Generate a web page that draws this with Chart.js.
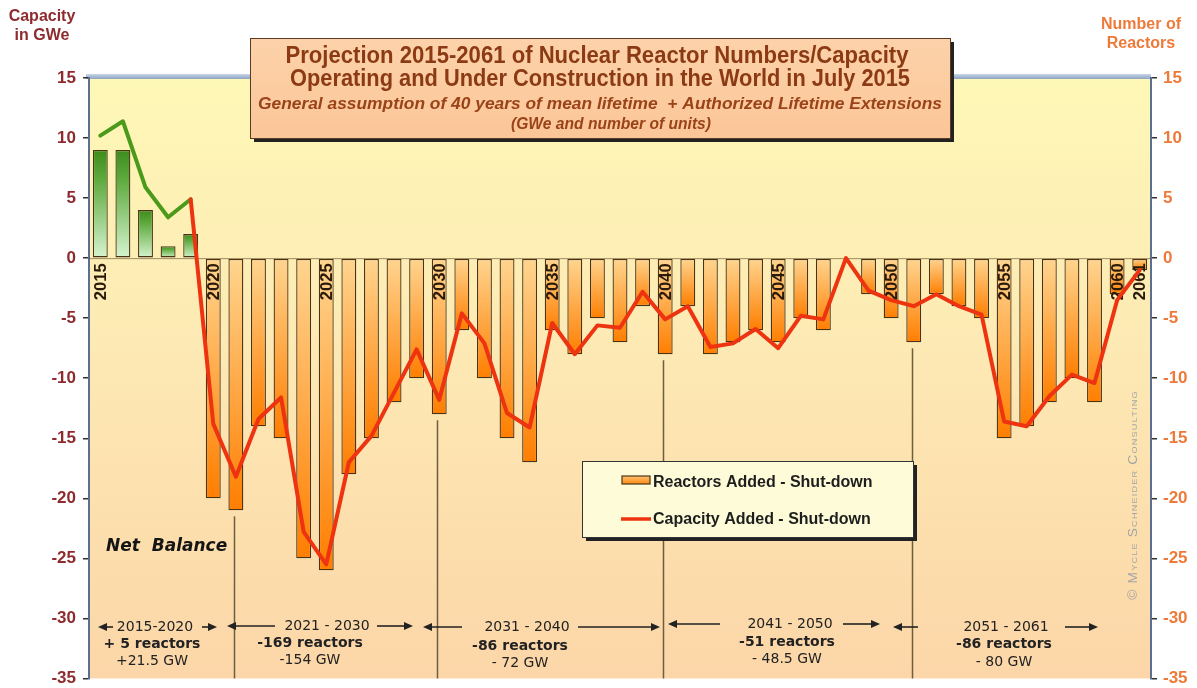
<!DOCTYPE html>
<html><head><meta charset="utf-8">
<script src="https://cdn.jsdelivr.net/npm/chart.js@4.4.0/dist/chart.umd.min.js"></script>
<style>html,body{margin:0;padding:0;background:#fff;overflow:hidden}canvas{display:block}</style>
</head><body>
<canvas id="c" width="1197" height="688"></canvas>
<script>
// ---------- DATA ----------
const years = ['2015','2016','2017','2018','2019','2020','2021','2022','2023','2024','2025','2026','2027','2028','2029',
  '2030','2031','2032','2033','2034','2035','2036','2037','2038','2039','2040','2041','2042','2043','2044','2045',
  '2046','2047','2048','2049','2050','2051','2052','2053','2054','2055','2056','2057','2058','2059','2060','2061'];
const reactors = [9,9,4,1,2,-20,-21,-14,-15,-25,-26,-18,-15,-12,-10,-13,-6,-10,-15,-17,-6,-8,-5,-7,-4,-8,-4,-8,-7,-6,-7,
  -5,-6,0,-3,-5,-7,-3,-4,-5,-15,-14,-12,-10,-12,-3,-1];
const capacity = [10.2,11.4,5.9,3.4,4.9,-13.8,-18.2,-13.4,-11.6,-22.8,-25.5,-17.0,-14.8,-11.2,-7.6,-11.8,-4.6,-7.1,-12.9,-14.1,
  -5.4,-8.0,-5.6,-5.8,-2.8,-5.1,-4.0,-7.4,-7.1,-5.9,-7.5,-4.8,-5.1,0,-2.7,-3.5,-4.0,-3.0,-4.0,-4.7,-13.6,-14.0,-11.5,-9.7,-10.4,-3.5,-1.0];
const yTicks = [15,10,5,0,-5,-10,-15,-20,-25,-30,-35];
const yearLabels = ['2015','2020','2025','2030','2035','2040','2045','2050','2055','2060','2061'];
const separatorYears = ['2021','2030','2040','2051'];
const periodLabels = ['2015-2020','2021 - 2030','2031 - 2040','2041 - 2050','2051 - 2061'];
const reactorLabels = ['+ 5 reactors','-169 reactors','-86 reactors','-51 reactors','-86 reactors'];
const gwLabels = ['+21.5 GW','-154 GW','- 72 GW','- 48.5 GW','- 80 GW'];
const titleLines = ['Projection 2015-2061 of Nuclear Reactor Numbers/Capacity',
  'Operating and Under Construction in the World in July 2015',
  'General assumption of 40 years of mean lifetime  + Authorized Lifetime Extensions',
  '(GWe and number of units)'];
const legendLabels = ['Reactors Added - Shut-down','Capacity Added - Shut-down'];

// ---------- STYLE / LAYOUT ----------
const GREEN = '#4C9A1C', RED = '#EE3311';
const periodX = [155,327,527,790,1006], periodY = [627,626,627,624,627];
const subX = [152,310,520,787,1004], subY1 = [644,643,646,642,644], subY2 = [661,660,663,659,662];
const arrows = [[113,98,0],[202,217,0],[275,227,1],[377,413,1],[462,423,2],[578,660,2],[720,668,3],[843,880,3],[918,893,4],[1065,1098,4]];

function fitText(ctx, text, x, y, w) {
  const m = ctx.measureText(text).width;
  let s = w / m; if (s > 1.15) s = 1.15; if (s < 0.8) s = 0.8;
  ctx.save(); ctx.translate(x, y); ctx.scale(s, 1); ctx.textAlign = 'center'; ctx.fillText(text, 0, 0); ctx.restore();
}
function arrow(ctx, x0, x1, y) {
  ctx.save(); ctx.strokeStyle = '#222'; ctx.fillStyle = '#222'; ctx.lineWidth = 1.6;
  const d = Math.sign(x1 - x0);
  ctx.beginPath(); ctx.moveTo(x0, y); ctx.lineTo(x1 - d * 6, y); ctx.stroke();
  ctx.beginPath(); ctx.moveTo(x1, y); ctx.lineTo(x1 - d * 9, y - 4); ctx.lineTo(x1 - d * 9, y + 4); ctx.closePath(); ctx.fill();
  ctx.restore();
}

const bgPlugin = {
  id: 'bg',
  beforeDraw(chart) {
    const { ctx, chartArea: a } = chart;
    ctx.save();
    ctx.fillStyle = '#fff'; ctx.fillRect(0, 0, chart.width, chart.height);
    const g = ctx.createLinearGradient(0, a.top, 0, a.bottom);
    g.addColorStop(0, '#FEF8B6'); g.addColorStop(0.45, '#FDE9B4'); g.addColorStop(1, '#FCD6A8');
    ctx.fillStyle = g; ctx.fillRect(a.left, a.top, a.right - a.left, a.bottom - a.top);
    const gb = ctx.createLinearGradient(0, a.top - 4, 0, a.top + 1);
    gb.addColorStop(0, '#C9D6E6'); gb.addColorStop(1, '#8CA3C2');
    ctx.fillStyle = gb; ctx.fillRect(a.left - 3, a.top - 4, a.right - a.left + 3, 5);
    ctx.restore();
  },
  afterDatasetDraw(chart, args) {
    if (args.meta.type !== 'bar') return;
    const { ctx, chartArea: a } = chart;
    const x = chart.scales.x, y = chart.scales.y1;
    const y0 = y.getPixelForValue(0);
    ctx.save();
    ctx.strokeStyle = 'rgba(80,60,30,0.55)'; ctx.lineWidth = 1;
    ctx.beginPath(); ctx.moveTo(a.left, y0 + 0.5); ctx.lineTo(a.right, y0 + 0.5); ctx.stroke();
    ctx.strokeStyle = '#6E5E40'; ctx.lineWidth = 1.5;
    separatorYears.forEach(yr => {
      const i = years.indexOf(yr);
      const px = Math.round(x.getPixelForValue(i)) - 1.5;
      const top = y.getPixelForValue(reactors[i]) + 6;
      ctx.beginPath(); ctx.moveTo(px, top); ctx.lineTo(px, a.bottom); ctx.stroke();
    });
    ctx.fillStyle = '#2A1A0A'; ctx.font = 'bold 16px "Liberation Sans", Arial, sans-serif';
    ctx.textAlign = 'right'; ctx.textBaseline = 'middle';
    yearLabels.forEach(yr => {
      const i = years.indexOf(yr);
      const px = x.getPixelForValue(i);
      ctx.save(); ctx.translate(px + 1, y0 + 5); ctx.rotate(-Math.PI / 2); ctx.scale(1.04, 1.08);
      ctx.fillText(yr, 0, 0); ctx.restore();
    });
    ctx.restore();
  },
  afterDraw(chart) {
    const { ctx } = chart;
    ctx.save();
    ctx.textBaseline = 'middle'; ctx.textAlign = 'center';
    ctx.font = 'bold 16px "Liberation Sans", Arial, sans-serif';
    ctx.fillStyle = '#8E2B2E';
    ctx.fillText('Capacity', 42, 17); ctx.fillText('in GWe', 42, 36);
    ctx.fillStyle = '#EE7A3A';
    ctx.fillText('Number of', 1141, 25); ctx.fillText('Reactors', 1141, 44);
    // title box
    ctx.fillStyle = '#222'; ctx.fillRect(254, 42, 700, 100);
    const tg = ctx.createLinearGradient(0, 38, 0, 138);
    tg.addColorStop(0, '#FDD2AA'); tg.addColorStop(1, '#FBC698');
    ctx.fillStyle = tg; ctx.fillRect(250, 38, 700, 100);
    ctx.strokeStyle = '#5A3A20'; ctx.lineWidth = 1; ctx.strokeRect(250.5, 38.5, 700, 100);
    ctx.fillStyle = '#8B3A14';
    ctx.font = 'bold 23px "Liberation Sans", Arial, sans-serif';
    fitText(ctx, titleLines[0], 597, 57, 623);
    fitText(ctx, titleLines[1], 600, 80, 620);
    ctx.fillStyle = '#9A4318';
    ctx.font = 'italic bold 17px "Liberation Sans", Arial, sans-serif';
    fitText(ctx, titleLines[2], 600, 104, 684);
    fitText(ctx, titleLines[3], 611, 124, 200);
    // legend box
    ctx.fillStyle = '#222'; ctx.fillRect(586, 465, 331, 76);
    ctx.fillStyle = '#FEFBD8'; ctx.fillRect(582, 461, 331, 76);
    ctx.strokeStyle = '#333'; ctx.strokeRect(582.5, 461.5, 331, 76);
    const sg = ctx.createLinearGradient(0, 476, 0, 484);
    sg.addColorStop(0, '#FFC070'); sg.addColorStop(1, '#FF8A10');
    ctx.fillStyle = sg; ctx.fillRect(622, 476, 28, 8);
    ctx.strokeStyle = '#4A3418'; ctx.lineWidth = 1.2; ctx.strokeRect(622, 476, 28, 8);
    ctx.strokeStyle = RED; ctx.lineWidth = 3.5;
    ctx.beginPath(); ctx.moveTo(621, 519); ctx.lineTo(651, 519); ctx.stroke();
    ctx.fillStyle = '#1E1E1E'; ctx.textAlign = 'left';
    ctx.font = 'bold 16px "Liberation Sans", Arial, sans-serif';
    ctx.fillText(legendLabels[0], 653, 483); ctx.fillText(legendLabels[1], 653, 520);
    // Net Balance
    ctx.font = 'italic bold 17px "DejaVu Sans", Verdana, sans-serif';
    ctx.fillStyle = '#151515'; ctx.textAlign = 'left';
    ctx.fillText('Net  Balance', 106, 547);
    // period annotations
    ctx.fillStyle = '#222'; ctx.textAlign = 'center';
    periodLabels.forEach((t, i) => {
      ctx.font = '14px "DejaVu Sans", Verdana, sans-serif';
      ctx.fillText(t, periodX[i], periodY[i]);
      ctx.font = 'bold 14px "DejaVu Sans", Verdana, sans-serif';
      ctx.fillText(reactorLabels[i], subX[i], subY1[i]);
      ctx.font = '14px "DejaVu Sans", Verdana, sans-serif';
      ctx.fillText(gwLabels[i], subX[i], subY2[i]);
    });
    arrows.forEach(([x0, x1, g]) => arrow(ctx, x0, x1, periodY[g]));
    // copyright
    ctx.save();
    ctx.translate(1134, 495); ctx.rotate(-Math.PI / 2);
    ctx.fillStyle = '#A5A5A5';
    ctx.font = '12px "Liberation Sans", Arial, sans-serif';
    try { ctx.fontVariantCaps = 'small-caps'; ctx.letterSpacing = '1px'; } catch (e) {}
    fitText(ctx, '© Mycle Schneider Consulting', 0, 0, 234);
    ctx.restore();
    ctx.restore();
  }
};

const tickFont = { family: '"Liberation Sans", Arial, sans-serif', size: 17, weight: 'bold', lineHeight: 0.3 };
const ctx = document.getElementById('c').getContext('2d');
new Chart(ctx, {
  data: {
    labels: years,
    datasets: [
      {
        type: 'line', label: legendLabels[1], data: capacity, yAxisID: 'y', order: 0,
        borderColor: RED, borderWidth: 4, pointRadius: 0, tension: 0, borderJoinStyle: 'round', borderCapStyle: 'round',
        segment: { borderColor: c => c.p1DataIndex <= 4 ? GREEN : RED }
      },
      {
        type: 'bar', label: legendLabels[0], data: reactors, yAxisID: 'y1', order: 1,
        barPercentage: 0.66, categoryPercentage: 1,
        borderColor: '#4A3418', borderWidth: 1.3, borderSkipped: false,
        backgroundColor: c => {
          const ch = c.chart; if (!ch.chartArea) return '#FF9A30';
          const v = c.raw; const s = ch.scales.y1;
          const p0 = s.getPixelForValue(0), p1 = s.getPixelForValue(v);
          if (p0 === p1) return '#FFB060';
          const g = ch.ctx.createLinearGradient(0, p0, 0, p1);
          if (v > 0) { g.addColorStop(0, '#D6F4D0'); g.addColorStop(0.75, '#5AA83A'); g.addColorStop(1, '#3C8C1C'); }
          else { g.addColorStop(0, '#FFD590'); g.addColorStop(1, '#FF7E00'); }
          return g;
        }
      }
    ]
  },
  options: {
    responsive: false, animation: false, devicePixelRatio: 1,
    layout: { padding: { top: 78, bottom: 1, left: 0, right: 0 } },
    plugins: { legend: { display: false }, tooltip: { enabled: false } },
    scales: {
      x: { type: 'category', display: false, offset: true, grid: { display: false } },
      y: {
        position: 'left', min: -35, max: 15,
        afterFit: s => { s.width = 89; },
        afterBuildTicks: s => { s.ticks = yTicks.map(v => ({ value: v })); },
        ticks: { color: '#8E2B2E', font: tickFont, padding: 7 },
        grid: { drawOnChartArea: false, tickLength: 6, color: '#333', lineWidth: 1.5 },
        border: { display: true, color: '#5C6F90', width: 2 }
      },
      y1: {
        position: 'right', min: -35, max: 15,
        afterFit: s => { s.width = 46; },
        afterBuildTicks: s => { s.ticks = yTicks.map(v => ({ value: v })); },
        ticks: { color: '#EE7A3A', font: tickFont, padding: 6 },
        grid: { drawOnChartArea: false, tickLength: 6, color: '#333', lineWidth: 1.5 },
        border: { display: true, color: '#5C6F90', width: 2 }
      }
    }
  },
  plugins: [bgPlugin]
});
</script>
</body></html>
